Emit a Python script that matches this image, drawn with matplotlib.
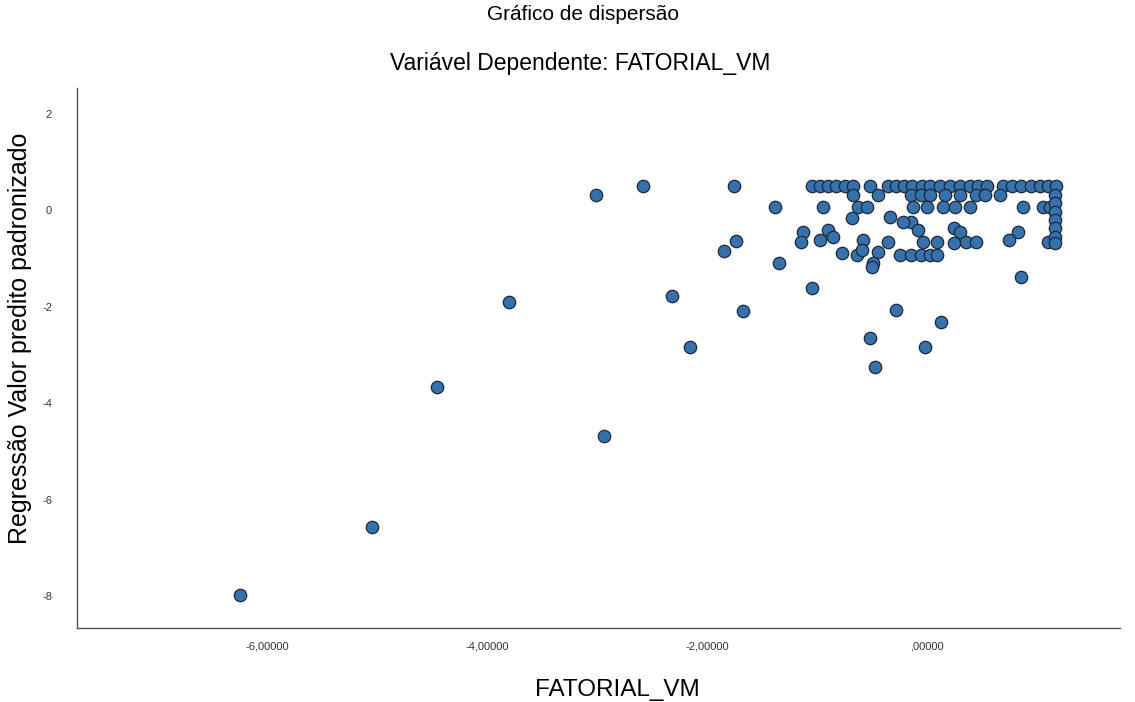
import matplotlib
matplotlib.use('Agg')
import matplotlib.pyplot as plt
from matplotlib.ticker import FuncFormatter

plt.rcParams['font.family'] = ['Liberation Sans', 'DejaVu Sans']
plt.rcParams['axes.unicode_minus'] = False

# FATORIAL_VM (observed) vs standardized predicted value
fatorial_vm = [
    # top band
    -2.58, -1.76, -1.05, -0.97, -0.90, -0.83, -0.75, -0.67, -0.52, -0.36,
    -0.28, -0.21, -0.14, -0.05, 0.03, 0.12, 0.21, 0.30, 0.39, 0.46,
    0.54, 0.69, 0.77, 0.85, 0.94, 1.03, 1.10, 1.17,
    -3.01, -0.67, -0.45, -0.15, -0.06, 0.03, 0.16, 0.30, 0.44, 0.53, 0.66, 1.16,
    -1.38, -0.95, -0.63, -0.55, -0.13, 0.00, 0.14, 0.25, 0.39, 0.87, 1.05, 1.12, 1.16,
    -0.68, -0.34, -0.15, -0.22, 1.16, 1.16,
    -1.13, -0.90, -0.08, 0.24, 0.30, 0.83, 1.16,
    -1.15, -0.97, -0.86, -0.58, -0.36, -0.04, 0.09, 0.24, 0.35, 0.44, 0.74,
    1.10, 1.16, 1.16, -1.74,
    -1.85, -0.77, -0.64, -0.45, -0.25, -0.15, -0.06, 0.03, 0.09, -0.59,
    -1.35, -0.49, -0.50,
    # scattered lower points
    -2.32, -2.16, -1.67, -1.05, -0.28, 0.13, -0.52, -0.02, -0.47, 0.85,
    -3.80, -4.46, -2.94, -5.05, -6.25,
]
predito_padronizado = [
    0.50, 0.50, 0.50, 0.50, 0.50, 0.50, 0.50, 0.50, 0.50, 0.50,
    0.50, 0.50, 0.50, 0.50, 0.50, 0.50, 0.50, 0.50, 0.50, 0.50,
    0.50, 0.50, 0.50, 0.50, 0.50, 0.50, 0.50, 0.50,
    0.31, 0.31, 0.31, 0.31, 0.31, 0.31, 0.31, 0.31, 0.31, 0.31, 0.31, 0.31,
    0.06, 0.06, 0.06, 0.06, 0.06, 0.06, 0.06, 0.06, 0.06, 0.06, 0.06, 0.06, 0.15,
    -0.17, -0.15, -0.25, -0.25, -0.04, -0.21,
    -0.46, -0.41, -0.41, -0.37, -0.46, -0.46, -0.37,
    -0.66, -0.62, -0.56, -0.62, -0.66, -0.66, -0.66, -0.68, -0.66, -0.66, -0.62,
    -0.66, -0.56, -0.68, -0.64,
    -0.85, -0.89, -0.93, -0.87, -0.93, -0.93, -0.93, -0.93, -0.93, -0.83,
    -1.10, -1.10, -1.18,
    -1.78, -2.84, -2.09, -1.62, -2.07, -2.32, -2.65, -2.84, -3.25, -1.39,
    -1.91, -3.67, -4.68, -6.57, -7.98,
]

x_ticks = [-6, -4, -2, 0]
y_ticks = [2, 0, -2, -4, -6, -8]


def fmt_spss(v, pos):
    # SPSS style: comma decimal, no leading zero
    s = f'{v:.5f}'.replace('.', ',')
    if s.startswith('0,'):
        s = s[1:]
    elif s.startswith('-0,'):
        s = '-' + s[2:]
    return s


fig = plt.figure(figsize=(11.35, 7.02), dpi=100)
ax = fig.add_axes([0.068, 0.1054, 0.919, 0.7692])

ax.scatter(fatorial_vm, predito_padronizado, s=80, c='#3671ab',
           edgecolors='#1b2a3c', linewidths=0.9, zorder=3)

ax.set_xlim(-7.727, 1.755)
ax.set_ylim(-8.663, 2.528)
ax.set_xticks(x_ticks)
ax.set_yticks(y_ticks)
ax.xaxis.set_major_formatter(FuncFormatter(fmt_spss))
ax.tick_params(length=0, labelsize=8, colors='#333333')
ax.tick_params(axis='x', pad=10)
ax.tick_params(axis='y', pad=18)

for side in ['top', 'right']:
    ax.spines[side].set_visible(False)
for side in ['left', 'bottom']:
    ax.spines[side].set_color('#555555')
    ax.spines[side].set_linewidth(1.0)

# axis titles and headers placed in figure coords
fig.text(0.544, 0.017, 'FATORIAL_VM', ha='center', va='center', fontsize=17.5)
fig.text(0.018, 0.518, 'Regressão Valor predito padronizado', ha='center',
         va='center', rotation=90, fontsize=18)
fig.text(0.514, 0.980, 'Gráfico de dispersão', ha='center', va='center', fontsize=15)
fig.text(0.511, 0.910, 'Variável Dependente: FATORIAL_VM', ha='center',
         va='center', fontsize=16.5)

fig.savefig('out.png', dpi=100, facecolor='white')
